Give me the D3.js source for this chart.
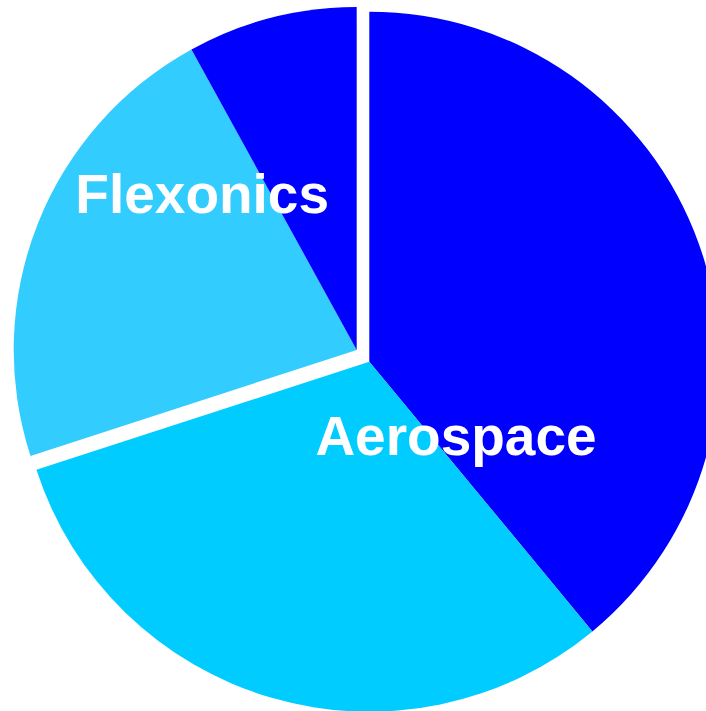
<!DOCTYPE html>
<html>
<head>
<meta charset="utf-8">
<script src="https://cdn.jsdelivr.net/npm/d3@7/dist/d3.min.js"></script>
<style>
  html, body { margin: 0; padding: 0; background: #fff; }
  svg { display: block; }
</style>
</head>
<body>
<svg id="chart" width="706" height="711"></svg>
<script>
// Revenue share by segment (percent)
const segments = ["Industrial", "Aerospace", "Flexonics", "Other"];
const shares = [39, 31, 22, 8];
const colors = ["#0000FF", "#00CCFF", "#33CCFF", "#0000FF"];
const labels = ["", "Aerospace", "Flexonics", ""];
// Segments pulled out of the main pie as a group
const exploded = [false, false, true, true];

const svg = d3.select("#chart");

const pie = d3.pie().sort(null).value(d => d.value);
const arcs = pie(segments.map((name, i) => ({
  name, value: shares[i], color: colors[i], label: labels[i], out: exploded[i]
})));

// Main body of the pie and the pulled-out group
const mainCenter = [369.3, 361.7];
const mainRadius = 350;
const outCenter = [356.7, 350];
const outRadius = 343;

const mainArc = d3.arc().innerRadius(0).outerRadius(mainRadius);
const outArc = d3.arc().innerRadius(0).outerRadius(outRadius);

const gMain = svg.append("g").attr("transform", `translate(${mainCenter})`);
const gOut = svg.append("g").attr("transform", `translate(${outCenter})`);

gMain.selectAll("path")
  .data(arcs.filter(a => !a.data.out))
  .join("path")
  .attr("d", mainArc)
  .attr("fill", d => d.data.color);

gOut.selectAll("path")
  .data(arcs.filter(a => a.data.out))
  .join("path")
  .attr("d", outArc)
  .attr("fill", d => d.data.color);

// Label anchors relative to each group's centre
const labelPos = { "Aerospace": [86.7, 93.5], "Flexonics": [-154.5, -136.7] };

function addLabels(g, data) {
  g.selectAll("text")
    .data(data.filter(a => a.data.label))
    .join("text")
    .attr("x", d => labelPos[d.data.label][0])
    .attr("y", d => labelPos[d.data.label][1])
    .attr("text-anchor", "middle")
    .attr("font-family", "'Liberation Sans', Arial, sans-serif")
    .attr("font-weight", "bold")
    .attr("font-size", 55)
    .attr("fill", "#fff")
    .text(d => d.data.label);
}
addLabels(gMain, arcs.filter(a => !a.data.out));
addLabels(gOut, arcs.filter(a => a.data.out));
</script>
</body>
</html>
